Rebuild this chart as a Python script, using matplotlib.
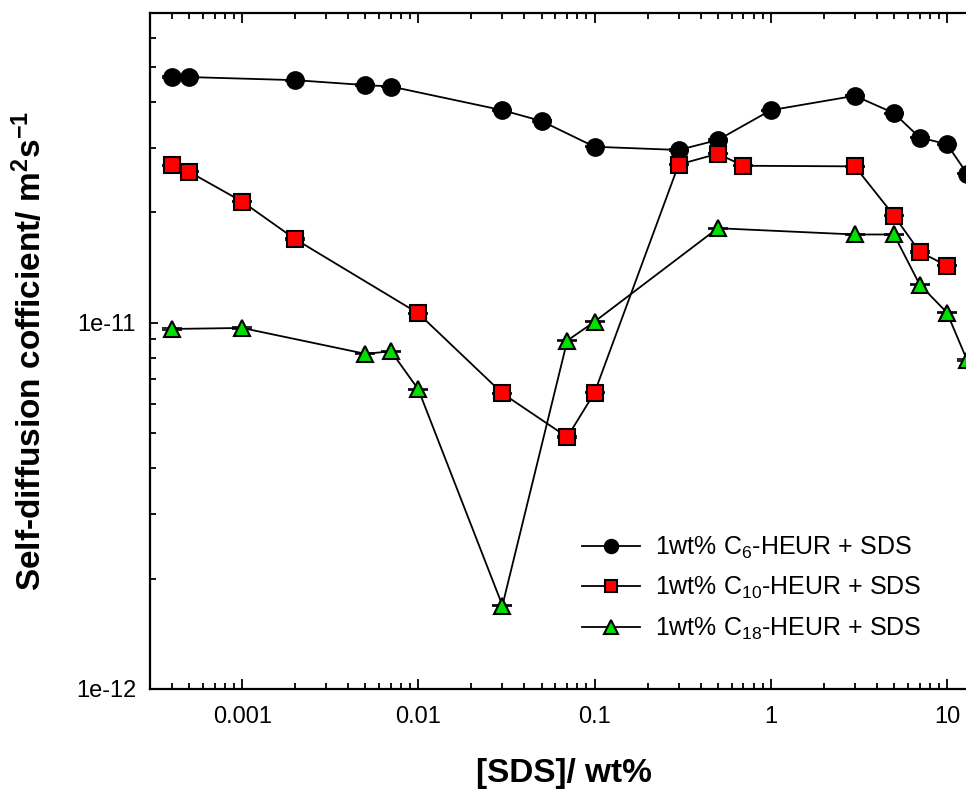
import matplotlib
matplotlib.use("Agg")
import matplotlib.pyplot as plt
import numpy as np
from matplotlib.ticker import LogLocator, NullFormatter, FixedLocator, FixedFormatter

plt.rcParams['font.family'] = ['Liberation Sans', 'DejaVu Sans']
plt.rcParams['mathtext.fontset'] = 'custom'
plt.rcParams['mathtext.rm'] = 'Liberation Sans'
plt.rcParams['mathtext.it'] = 'Liberation Sans:italic'
plt.rcParams['mathtext.bf'] = 'Liberation Sans:bold'

# --- data -------------------------------------------------------------
x_c6 = [0.0004, 0.0005, 0.002, 0.005, 0.007, 0.03, 0.05, 0.1, 0.3, 0.5, 1, 3, 5, 7, 10, 13]
y_c6 = [4.68e-11, 4.68e-11, 4.59e-11, 4.45e-11, 4.41e-11, 3.80e-11, 3.55e-11, 3.02e-11,
        2.96e-11, 3.15e-11, 3.80e-11, 4.16e-11, 3.73e-11, 3.20e-11, 3.07e-11, 2.55e-11]

x_c10 = [0.0004, 0.0005, 0.001, 0.002, 0.01, 0.03, 0.07, 0.1, 0.3, 0.5, 0.7, 3, 5, 7, 10]
y_c10 = [2.69e-11, 2.58e-11, 2.14e-11, 1.69e-11, 1.06e-11, 6.41e-12, 4.87e-12, 6.44e-12,
         2.70e-11, 2.89e-11, 2.68e-11, 2.67e-11, 1.96e-11, 1.56e-11, 1.43e-11]

x_c18 = [0.0004, 0.001, 0.005, 0.007, 0.01, 0.03, 0.07, 0.1, 0.5, 3, 5, 7, 10, 13]
y_c18 = [9.61e-12, 9.67e-12, 8.22e-12, 8.35e-12, 6.57e-12, 1.69e-12, 8.93e-12, 1.006e-11,
         1.81e-11, 1.74e-11, 1.74e-11, 1.27e-11, 1.065e-11, 7.9e-12]

labels = [r'1wt% C$_{6}$-HEUR + SDS', r'1wt% C$_{10}$-HEUR + SDS', r'1wt% C$_{18}$-HEUR + SDS']
x_ticks = [0.001, 0.01, 0.1, 1, 10]
x_ticklabels = ['0.001', '0.01', '0.1', '1', '10']
y_ticks = [1e-12, 1e-11]
y_ticklabels = ['1e-12', '1e-11']

# --- figure -----------------------------------------------------------
W, H = 966, 791
fig = plt.figure(figsize=(W / 100, H / 100), dpi=100)
left, right, bottom, top = 150, 978, 689, 13
ax = fig.add_axes([left / W, (H - bottom) / H, (right - left) / W, (bottom - top) / H])

series = [
    (x_c6, y_c6, 'o', 'black', 12, labels[0]),
    (x_c10, y_c10, 's', '#ff0000', 11, labels[1]),
    (x_c18, y_c18, '^', '#00e000', 12, labels[2]),
]
handles = []
for xs, ys, m, c, ms, lab in series:
    ys_arr = np.array(ys)
    ax.errorbar(xs, ys, yerr=ys_arr * 0.004, fmt='none', ecolor='black',
                elinewidth=1.0, capsize=7, capthick=1.2, zorder=3)
    h, = ax.plot(xs, ys, color='black', lw=1.3, marker=m, markersize=ms,
                 markerfacecolor=c, markeredgecolor='black', markeredgewidth=1.5,
                 label=lab, zorder=4)
    handles.append(h)

ax.set_xscale('log')
ax.set_yscale('log')
ax.set_xlim(3e-4, 15)
ax.set_ylim(1e-12, 7e-11)

ax.xaxis.set_major_locator(FixedLocator(x_ticks))
ax.xaxis.set_major_formatter(FixedFormatter(x_ticklabels))
ax.xaxis.set_minor_locator(LogLocator(base=10, subs=np.arange(2, 10), numticks=20))
ax.xaxis.set_minor_formatter(NullFormatter())
ax.yaxis.set_major_locator(FixedLocator(y_ticks))
ax.yaxis.set_major_formatter(FixedFormatter(y_ticklabels))
ax.yaxis.set_minor_locator(LogLocator(base=10, subs=np.arange(2, 10), numticks=20))
ax.yaxis.set_minor_formatter(NullFormatter())

ax.tick_params(which='both', direction='in', top=True, right=True, width=1.3,
               labelsize=17, colors='black')
ax.tick_params(axis='x', which='major', length=7, pad=12)
ax.tick_params(axis='x', which='minor', length=4)
ax.tick_params(axis='y', which='major', length=6, pad=10)
ax.tick_params(axis='y', which='minor', length=4)
for s in ax.spines.values():
    s.set_linewidth(1.6)

ax.set_xlabel('[SDS]/ wt%', fontsize=24, fontweight='bold', labelpad=22)
ax.set_ylabel(r'Self-diffusion cofficient/ m$^{\mathbf{2}}$s$^{\mathbf{-1}}$',
              fontsize=24, fontweight='bold', labelpad=20)

leg = ax.legend(handles=handles, loc='center', bbox_to_anchor=(0.727, 0.149),
                frameon=False, fontsize=18, markerscale=0.8, handlelength=2.3,
                handletextpad=0.6, labelspacing=0.57)

fig.savefig('out.png', dpi=100)
